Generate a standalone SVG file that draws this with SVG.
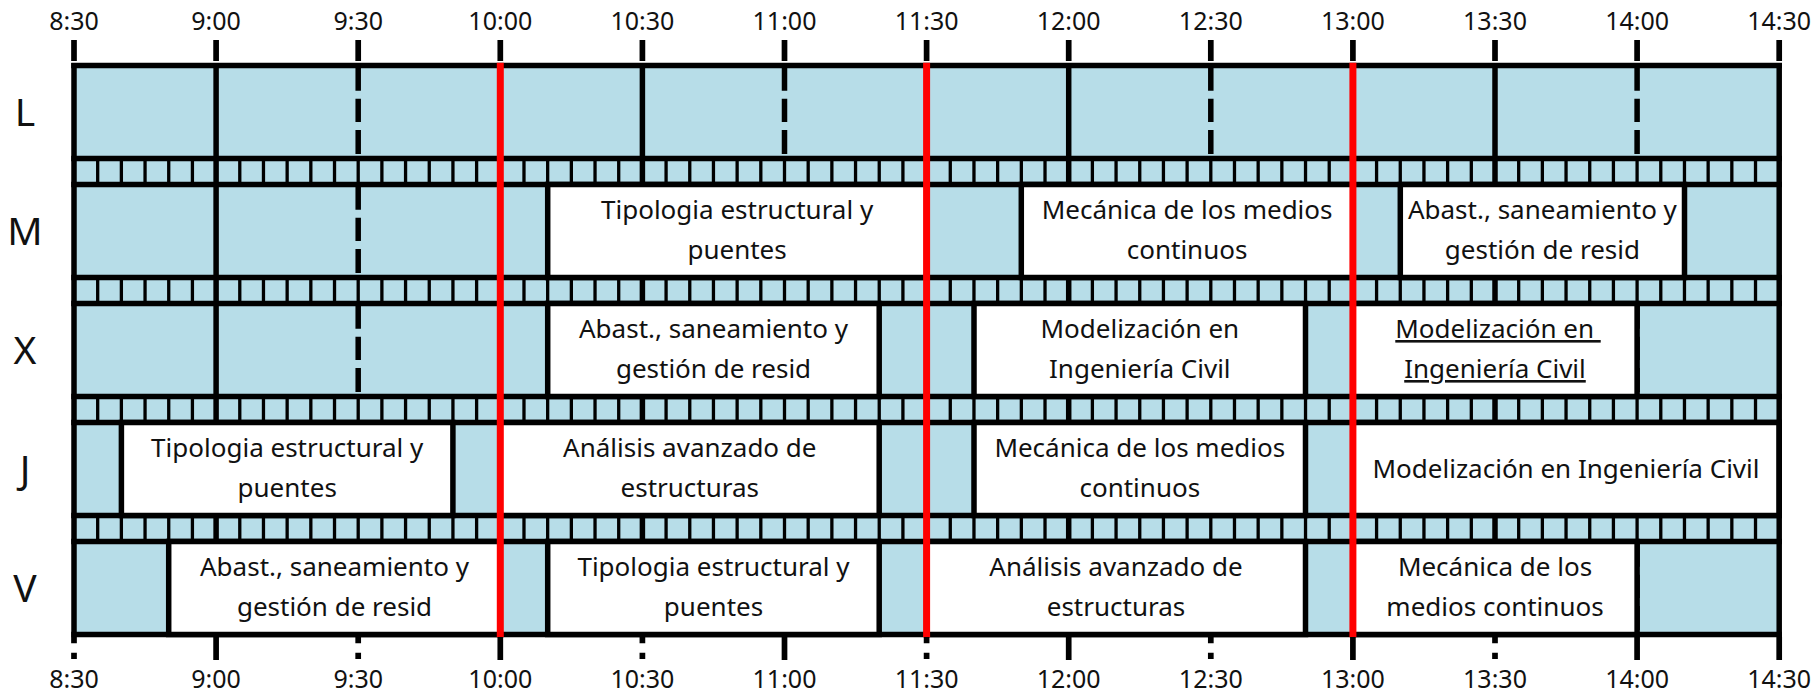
<svg xmlns="http://www.w3.org/2000/svg" width="1819" height="694" viewBox="0 0 1819 694">
<style>
.k{stroke:#000;stroke-width:5.5;fill:none}
.sep{stroke:#000;stroke-width:26;stroke-dasharray:3.3 20.3833}
.dash{stroke:#000;stroke-width:5.5;stroke-dasharray:25.2 8 23.3 8 24 100}
.red{stroke:#FF0000;stroke-width:7}
.tk{stroke:#000;stroke-width:5.7}
.tkd{stroke:#000;stroke-width:5.7;stroke-dasharray:6.3 9.4}
.box rect{fill:#fff;stroke:#000;stroke-width:5.5}
text{font-family:"Noto Sans","Open Sans","Liberation Sans",sans-serif;fill:#111;text-anchor:middle}
.c{font-size:26px}
.tm{font-size:25px}
.day{font-size:39px}
.u{text-decoration:underline}
</style>
<rect width="1819" height="694" fill="#fff"/>
<g id="grid">
<rect x="74" y="65.5" width="1705.2" height="569" fill="#B7DDE8"/>
<!-- 5-minute separators in strips -->
<line class="sep" x1="72.35" y1="171.5" x2="1781" y2="171.5"/>
<line class="sep" x1="72.35" y1="290.5" x2="1781" y2="290.5"/>
<line class="sep" x1="72.35" y1="409.5" x2="1781" y2="409.5"/>
<line class="sep" x1="72.35" y1="528.5" x2="1781" y2="528.5"/>
<!-- horizontal lines -->
<g class="k" stroke-linecap="square">
<line x1="74" y1="65.5" x2="1779.2" y2="65.5"/>
<line x1="74" y1="158.5" x2="1779.2" y2="158.5"/>
<line x1="74" y1="184.5" x2="1779.2" y2="184.5"/>
<line x1="74" y1="277.5" x2="1779.2" y2="277.5"/>
<line x1="74" y1="303.5" x2="1779.2" y2="303.5"/>
<line x1="74" y1="396.5" x2="1779.2" y2="396.5"/>
<line x1="74" y1="422.5" x2="1779.2" y2="422.5"/>
<line x1="74" y1="515.5" x2="1779.2" y2="515.5"/>
<line x1="74" y1="541.5" x2="1779.2" y2="541.5"/>
<line x1="74" y1="634.5" x2="1779.2" y2="634.5"/>
</g>
<!-- solid half-hour lines -->
<g class="k">
<line x1="216.1" y1="63" x2="216.1" y2="637"/>
<line x1="642.4" y1="63" x2="642.4" y2="637"/>
<line x1="1068.7" y1="63" x2="1068.7" y2="637"/>
<line x1="1495" y1="63" x2="1495" y2="637"/>
</g>
<!-- dashed half-hour lines, per row -->
<g class="dash">
<line x1="358.2" y1="65.5" x2="358.2" y2="154"/>
<line x1="358.2" y1="184.5" x2="358.2" y2="273"/>
<line x1="358.2" y1="303.5" x2="358.2" y2="392"/>
<line x1="358.2" y1="422.5" x2="358.2" y2="511"/>
<line x1="358.2" y1="541.5" x2="358.2" y2="630"/>
<line x1="784.5" y1="65.5" x2="784.5" y2="154"/>
<line x1="784.5" y1="184.5" x2="784.5" y2="273"/>
<line x1="784.5" y1="303.5" x2="784.5" y2="392"/>
<line x1="784.5" y1="422.5" x2="784.5" y2="511"/>
<line x1="784.5" y1="541.5" x2="784.5" y2="630"/>
<line x1="1210.8" y1="65.5" x2="1210.8" y2="154"/>
<line x1="1210.8" y1="184.5" x2="1210.8" y2="273"/>
<line x1="1210.8" y1="303.5" x2="1210.8" y2="392"/>
<line x1="1210.8" y1="422.5" x2="1210.8" y2="511"/>
<line x1="1210.8" y1="541.5" x2="1210.8" y2="630"/>
<line x1="1637.1" y1="65.5" x2="1637.1" y2="154"/>
<line x1="1637.1" y1="184.5" x2="1637.1" y2="273"/>
<line x1="1637.1" y1="303.5" x2="1637.1" y2="392"/>
<line x1="1637.1" y1="422.5" x2="1637.1" y2="511"/>
<line x1="1637.1" y1="541.5" x2="1637.1" y2="630"/>
</g>
</g>

<g id="row-M" class="box">
<g id="M-tipologia"><rect x="547.7" y="184.5" width="378.9" height="93"/><text class="c" x="737.1" y="219">Tipologia estructural y</text><text class="c" x="737.1" y="259">puentes</text></g>
<g id="M-mecanica"><rect x="1021.3" y="184.5" width="331.6" height="93"/><text class="c" x="1187.1" y="219">Mecánica de los medios</text><text class="c" x="1187.1" y="259">continuos</text></g>
<g id="M-abast"><rect x="1400.3" y="184.5" width="284.2" height="93"/><text class="c" x="1542.4" y="219">Abast., saneamiento y</text><text class="c" x="1542.4" y="259">gestión de resid</text></g>
</g>
<g id="row-X" class="box">
<g id="X-abast"><rect x="547.7" y="303.5" width="331.5" height="93"/><text class="c" x="713.5" y="338">Abast., saneamiento y</text><text class="c" x="713.5" y="378">gestión de resid</text></g>
<g id="X-modelizacion"><rect x="974" y="303.5" width="331.5" height="93"/><text class="c" x="1139.8" y="338">Modelización en</text><text class="c" x="1139.8" y="378">Ingeniería Civil</text></g>
<g id="X-modelizacion2"><rect x="1352.9" y="303.5" width="284.2" height="93"/><text class="c u" x="1498" y="338">Modelización en&#160;</text><text class="c u" x="1495" y="378">Ingeniería Civil</text></g>
</g>
<g id="row-J" class="box">
<g id="J-tipologia"><rect x="121.4" y="422.5" width="331.5" height="93"/><text class="c" x="287.2" y="457">Tipologia estructural y</text><text class="c" x="287.2" y="497">puentes</text></g>
<g id="J-analisis"><rect x="500.3" y="422.5" width="378.9" height="93"/><text class="c" x="689.8" y="457">Análisis avanzado de</text><text class="c" x="689.8" y="497">estructuras</text></g>
<g id="J-mecanica"><rect x="974" y="422.5" width="331.5" height="93"/><text class="c" x="1139.8" y="457">Mecánica de los medios</text><text class="c" x="1139.8" y="497">continuos</text></g>
<g id="J-modelizacion"><rect x="1352.9" y="422.5" width="426.3" height="93"/><text class="c" x="1566" y="478">Modelización en Ingeniería Civil</text></g>
</g>
<g id="row-V" class="box">
<g id="V-abast"><rect x="168.7" y="541.5" width="331.6" height="93"/><text class="c" x="334.5" y="576">Abast., saneamiento y</text><text class="c" x="334.5" y="616">gestión de resid</text></g>
<g id="V-tipologia"><rect x="547.7" y="541.5" width="331.5" height="93"/><text class="c" x="713.5" y="576">Tipologia estructural y</text><text class="c" x="713.5" y="616">puentes</text></g>
<g id="V-analisis"><rect x="926.6" y="541.5" width="378.9" height="93"/><text class="c" x="1116" y="576">Análisis avanzado de</text><text class="c" x="1116" y="616">estructuras</text></g>
<g id="V-mecanica"><rect x="1352.9" y="541.5" width="284.2" height="93"/><text class="c" x="1495" y="576">Mecánica de los</text><text class="c" x="1495" y="616">medios continuos</text></g>
</g>

<g id="borders" class="k">
<line x1="74" y1="63" x2="74" y2="637"/>
<line x1="1779.2" y1="63" x2="1779.2" y2="637"/>
</g>
<g id="connectors">
<line class="red" x1="500.3" y1="62.7" x2="500.3" y2="637.3"/>
<line class="red" x1="926.6" y1="62.7" x2="926.6" y2="637.3"/>
<line class="red" x1="1352.9" y1="62.7" x2="1352.9" y2="637.3"/>
</g>
<g id="ticks">
<g class="tk">
<line x1="74" y1="40" x2="74" y2="61"/><line x1="216.1" y1="40" x2="216.1" y2="61"/><line x1="358.2" y1="40" x2="358.2" y2="61"/><line x1="500.3" y1="40" x2="500.3" y2="61"/><line x1="642.4" y1="40" x2="642.4" y2="61"/><line x1="784.5" y1="40" x2="784.5" y2="61"/><line x1="926.6" y1="40" x2="926.6" y2="61"/><line x1="1068.7" y1="40" x2="1068.7" y2="61"/><line x1="1210.8" y1="40" x2="1210.8" y2="61"/><line x1="1352.9" y1="40" x2="1352.9" y2="61"/><line x1="1495" y1="40" x2="1495" y2="61"/><line x1="1637.1" y1="40" x2="1637.1" y2="61"/><line x1="1779.2" y1="40" x2="1779.2" y2="61"/>
<line x1="216.1" y1="637" x2="216.1" y2="660"/><line x1="500.3" y1="637" x2="500.3" y2="660"/><line x1="784.5" y1="637" x2="784.5" y2="660"/><line x1="1068.7" y1="637" x2="1068.7" y2="660"/><line x1="1352.9" y1="637" x2="1352.9" y2="660"/><line x1="1637.1" y1="637" x2="1637.1" y2="660"/><line x1="1779.2" y1="637" x2="1779.2" y2="660"/>
</g>
<g class="tkd">
<line x1="74" y1="637" x2="74" y2="660"/><line x1="358.2" y1="637" x2="358.2" y2="660"/><line x1="642.4" y1="637" x2="642.4" y2="660"/><line x1="926.6" y1="637" x2="926.6" y2="660"/><line x1="1210.8" y1="637" x2="1210.8" y2="660"/><line x1="1495" y1="637" x2="1495" y2="660"/>
</g>
</g>
<g id="labels" class="tm">
<text x="74" y="30">8:30</text><text x="216.1" y="30">9:00</text><text x="358.2" y="30">9:30</text><text x="500.3" y="30">10:00</text><text x="642.4" y="30">10:30</text><text x="784.5" y="30">11:00</text><text x="926.6" y="30">11:30</text><text x="1068.7" y="30">12:00</text><text x="1210.8" y="30">12:30</text><text x="1352.9" y="30">13:00</text><text x="1495" y="30">13:30</text><text x="1637.1" y="30">14:00</text><text x="1779.2" y="30">14:30</text>
<text x="74" y="688">8:30</text><text x="216.1" y="688">9:00</text><text x="358.2" y="688">9:30</text><text x="500.3" y="688">10:00</text><text x="642.4" y="688">10:30</text><text x="784.5" y="688">11:00</text><text x="926.6" y="688">11:30</text><text x="1068.7" y="688">12:00</text><text x="1210.8" y="688">12:30</text><text x="1352.9" y="688">13:00</text><text x="1495" y="688">13:30</text><text x="1637.1" y="688">14:00</text><text x="1779.2" y="688">14:30</text>
</g>
<g id="days" class="day">
<text x="25" y="126">L</text><text x="25" y="245">M</text><text x="25" y="364">X</text><text x="25" y="483">J</text><text x="25" y="602">V</text>
</g>
</svg>
